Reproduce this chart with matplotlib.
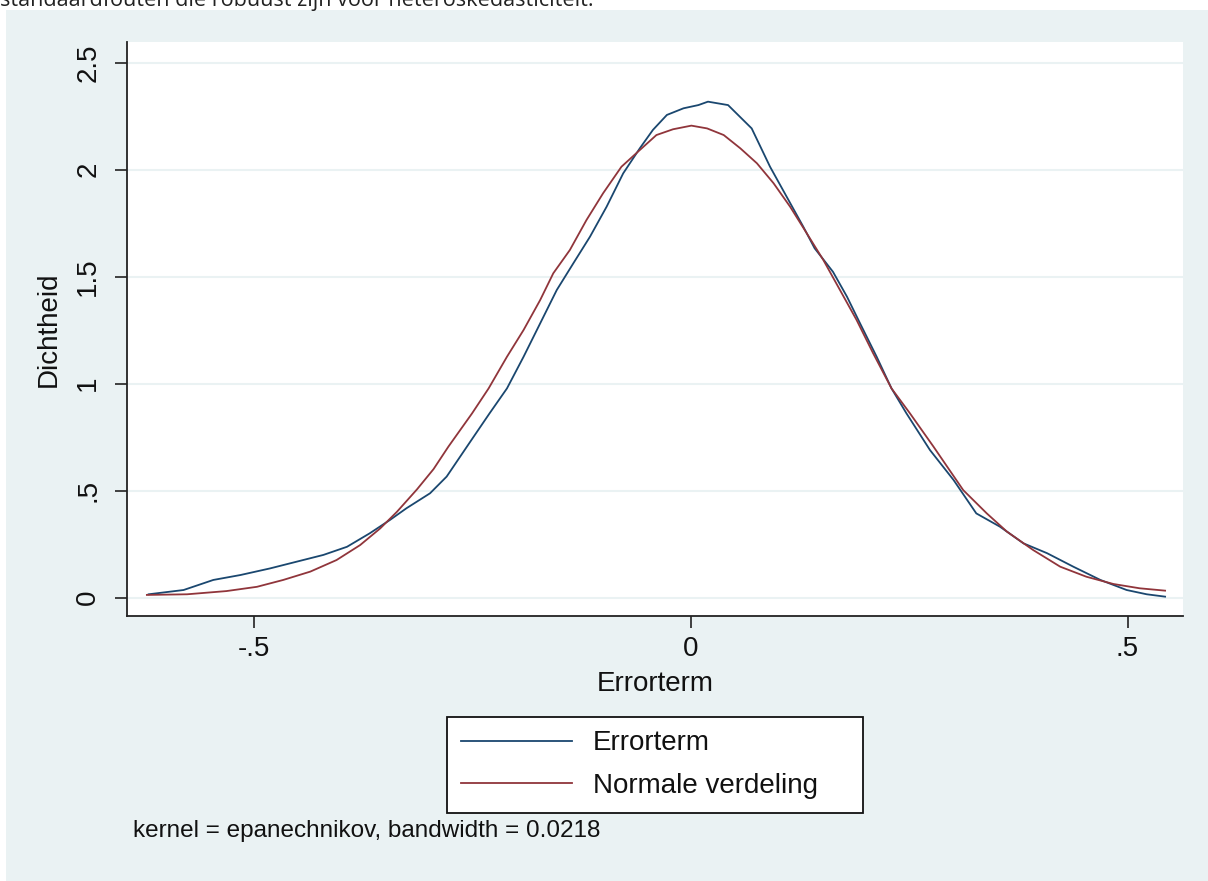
import matplotlib
matplotlib.use("Agg")
import matplotlib.pyplot as plt
from matplotlib.patches import Rectangle

# ---- data ----
kde_x = [-0.620, -0.580, -0.546, -0.515, -0.481, -0.451, -0.420, -0.393, -0.367, -0.344,
         -0.325, -0.298, -0.279, -0.250, -0.230, -0.210, -0.191, -0.172, -0.153, -0.134,
         -0.115, -0.096, -0.077, -0.058, -0.043, -0.027, -0.008, 0.009, 0.020, 0.043,
         0.070, 0.091, 0.110, 0.129, 0.142, 0.163, 0.179, 0.194, 0.213, 0.230,
         0.247, 0.274, 0.301, 0.327, 0.354, 0.381, 0.408, 0.438, 0.469, 0.499,
         0.522, 0.543]
kde_y = [0.015, 0.035, 0.082, 0.105, 0.136, 0.167, 0.199, 0.237, 0.300, 0.362,
         0.417, 0.487, 0.565, 0.740, 0.860, 0.977, 1.125, 1.281, 1.437, 1.562,
         1.686, 1.826, 1.982, 2.099, 2.185, 2.255, 2.286, 2.301, 2.317, 2.301,
         2.192, 2.013, 1.873, 1.733, 1.632, 1.522, 1.406, 1.281, 1.125, 0.977,
         0.861, 0.689, 0.549, 0.393, 0.331, 0.253, 0.207, 0.144, 0.082, 0.035,
         0.015, 0.004]

norm_x = [-0.622, -0.576, -0.531, -0.496, -0.466, -0.435, -0.405, -0.378, -0.355, -0.336,
          -0.313, -0.294, -0.277, -0.250, -0.231, -0.210, -0.191, -0.172, -0.157, -0.138,
          -0.119, -0.100, -0.079, -0.058, -0.039, -0.020, 0.001, 0.019, 0.038, 0.057,
          0.076, 0.095, 0.114, 0.133, 0.152, 0.171, 0.190, 0.209, 0.230, 0.251,
          0.278, 0.312, 0.339, 0.362, 0.392, 0.423, 0.453, 0.484, 0.514, 0.543]
norm_y = [0.012, 0.015, 0.030, 0.050, 0.082, 0.121, 0.175, 0.245, 0.323, 0.400,
          0.505, 0.600, 0.705, 0.860, 0.977, 1.125, 1.250, 1.390, 1.515, 1.624,
          1.764, 1.889, 2.013, 2.091, 2.161, 2.188, 2.205, 2.192, 2.161, 2.099,
          2.029, 1.936, 1.826, 1.702, 1.577, 1.437, 1.297, 1.141, 0.977, 0.861,
          0.705, 0.502, 0.393, 0.308, 0.222, 0.144, 0.097, 0.063, 0.043, 0.032]

x_ticks = [-0.5, 0, 0.5]
x_tick_labels = ["-.5", "0", ".5"]
y_ticks = [0, 0.5, 1, 1.5, 2, 2.5]
y_tick_labels = ["0", ".5", "1", "1.5", "2", "2.5"]

series_labels = ["Errorterm", "Normale verdeling"]
x_title = "Errorterm"
y_title = "Dichtheid"
note_text = "kernel = epanechnikov, bandwidth = 0.0218"
top_text = "standaardfouten die robuust zijn voor heteroskedasticiteit."

# ---- styling ----
W, H = 1208, 881
BG = "#EAF2F3"
BLUE = "#1A476F"
RED = "#90353B"

plt.rcParams['font.family'] = ['Liberation Sans', 'DejaVu Sans']

fig = plt.figure(figsize=(W / 100, H / 100), dpi=100, facecolor="white")
fig.patches.append(Rectangle((6 / W, 0), 1 - 6 / W, 1 - 10 / H, transform=fig.transFigure,
                             facecolor=BG, edgecolor="none", zorder=-5))
fig.text(0.0, 1 - 6 / H, top_text, family=['Open Sans', 'DejaVu Sans'], fontsize=15.6,
         va="baseline", ha="left", color="#222222", zorder=-4)

ax = fig.add_axes([127 / W, 1 - 616 / H, (1183 - 127) / W, (616 - 42) / H])
ax.set_facecolor("white")

def px2x(p):
    return (p - 690.5) / 874.0

def px2y(p):
    return (597.5 - p) / 214.0

ax.set_xlim(px2x(127), px2x(1183))
ax.set_ylim(px2y(616), px2y(42))

ax.plot(kde_x, kde_y, color=BLUE, lw=1.3, label=series_labels[0], zorder=3)
ax.plot(norm_x, norm_y, color=RED, lw=1.3, label=series_labels[1], zorder=3)

ax.set_xticks(x_ticks)
ax.set_xticklabels(x_tick_labels)
ax.set_yticks(y_ticks)
ax.set_yticklabels(y_tick_labels, rotation=90, va="center")
ax.yaxis.grid(True, color=BG, lw=1.5)
ax.xaxis.grid(False)
ax.set_axisbelow(True)

for s in ["top", "right"]:
    ax.spines[s].set_visible(False)
for s in ["left", "bottom"]:
    ax.spines[s].set_color("#222222")
    ax.spines[s].set_linewidth(1.3)

ax.tick_params(axis="both", direction="out", length=8.6, width=1.2, color="#222222",
               labelsize=20, labelcolor="#111111")
ax.tick_params(axis="y", pad=10)
ax.tick_params(axis="x", pad=6)

ax.set_xlabel(x_title, fontsize=20, labelpad=6, color="#111111")
ax.set_ylabel(y_title, fontsize=20, labelpad=10, color="#111111")

leg = ax.legend(loc="lower left",
                bbox_to_anchor=(447 / W, 1 - 813 / H, 416 / W, 98 / H),
                bbox_transform=fig.transFigure, mode="expand", borderaxespad=0,
                fontsize=20, frameon=True, fancybox=False, handlelength=4.0,
                handletextpad=0.75, labelspacing=0.6, borderpad=0.5,
                labelcolor="#111111")
leg.get_frame().set_edgecolor("#111111")
leg.get_frame().set_linewidth(1.3)
leg.get_frame().set_facecolor("white")
leg.get_frame().set_alpha(1)

fig.text(133 / W, 1 - 831 / H, note_text, fontsize=17.5, va="center", ha="left",
         color="#111111")

fig.savefig("out.png", dpi=100, facecolor=fig.get_facecolor())
